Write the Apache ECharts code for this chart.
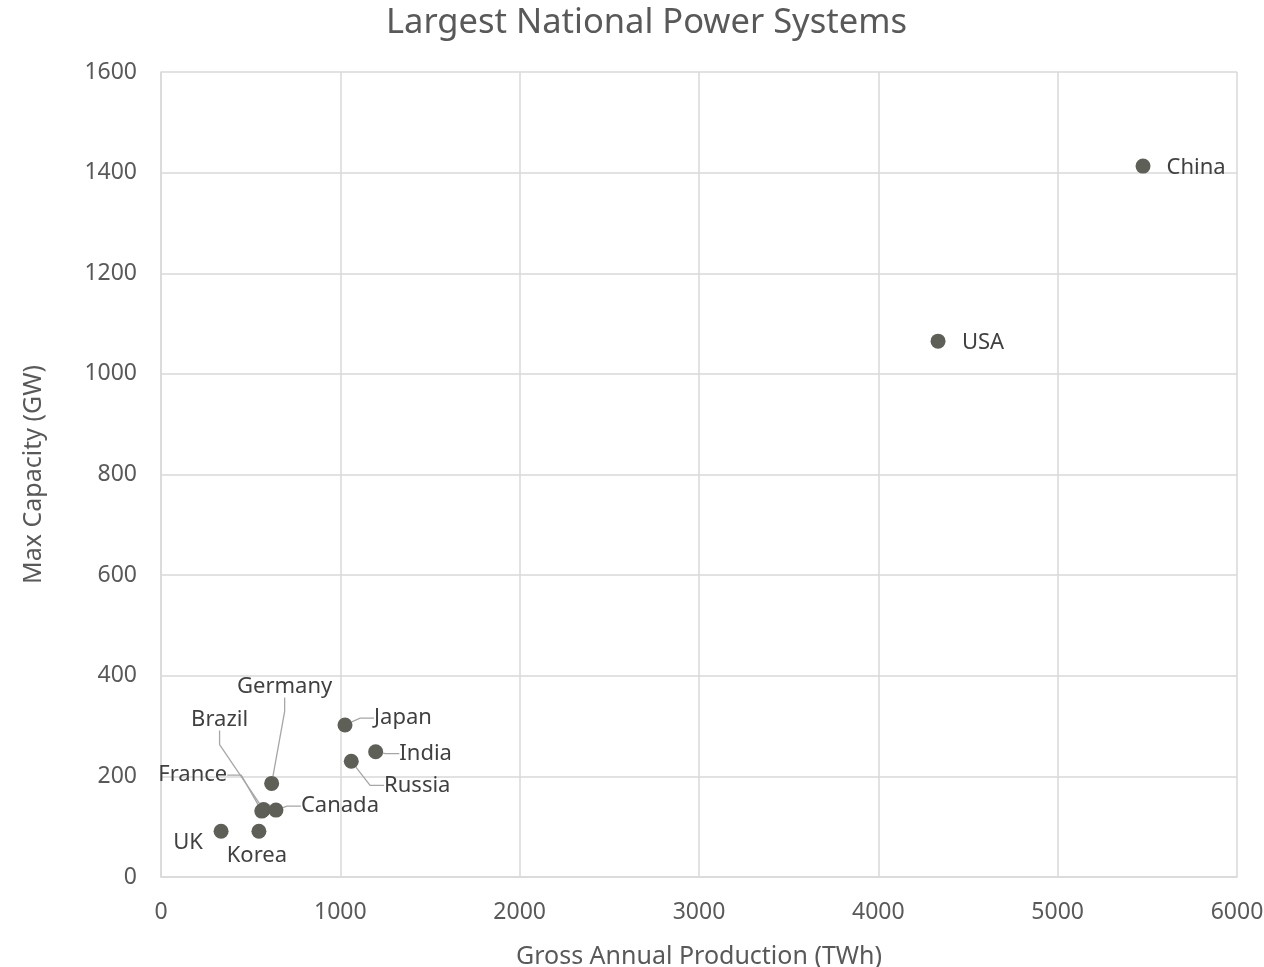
<!DOCTYPE html>
<html>
<head>
<meta charset="utf-8">
<script src="https://cdn.jsdelivr.net/npm/echarts@6/dist/echarts.min.js"></script>
<style>
html,body{margin:0;padding:0;background:#fff;}
#chart{width:1264px;height:967px;}
</style>
</head>
<body>
<div id="chart"></div>
<script>
// ---- data ----
const countries = ['China', 'USA', 'Japan', 'India', 'Russia', 'Germany', 'Brazil', 'France', 'Canada', 'Korea', 'UK'];
const production = [5476, 4333, 1026, 1197, 1061, 617, 572, 562, 641, 546, 335]; // TWh
const capacity = [1413, 1065, 302, 249, 230, 186, 134, 131, 133, 91, 91];      // GW
const xTicks = [0, 1000, 2000, 3000, 4000, 5000, 6000];
const yTicks = [0, 200, 400, 600, 800, 1000, 1200, 1400, 1600];

// label placement (offset of label centre from the marker centre, px) – styling only
const labelOffsets = {
  China: [53, 2], USA: [45, 2], Japan: [58, -7], India: [50, 2], Russia: [66, 24],
  Germany: [13, -97], Brazil: [-44, -90], France: [-69, -36], Canada: [64, -4],
  Korea: [-2, 25], UK: [-33, 12]
};
const withLeader = ['Japan', 'India', 'Russia', 'Germany', 'Brazil', 'France', 'Canada'];

const FONT = 'Noto Sans';
const chart = echarts.init(document.getElementById('chart'));
const seriesData = countries.map((c, i) => ({
  name: c,
  value: [production[i], capacity[i]],
  labelLine: { show: withLeader.indexOf(c) >= 0 }
}));

chart.setOption({
  animation: false,
  backgroundColor: '#ffffff',
  title: {
    text: 'Largest National Power Systems',
    left: 381,
    top: 1,
    textStyle: { fontFamily: FONT, fontSize: 34.5, fontWeight: 'normal', color: '#595959' }
  },
  grid: { left: 161, right: 27, top: 72, bottom: 90, containLabel: false, outerBoundsMode: 'none' },
  xAxis: {
    type: 'value',
    min: xTicks[0], max: xTicks[xTicks.length - 1], interval: 1000,
    name: 'Gross Annual Production (TWh)',
    nameLocation: 'middle', nameGap: 67,
    nameTextStyle: { fontFamily: FONT, fontSize: 25, color: '#595959' },
    axisLine: { show: true, lineStyle: { color: '#d9d9d9', width: 1.5 } },
    axisTick: { show: false },
    axisLabel: { fontFamily: FONT, fontSize: 23, color: '#595959', margin: 24, formatter: v => String(v) },
    splitLine: { show: true, lineStyle: { color: '#d9d9d9', width: 1.5 } }
  },
  yAxis: {
    type: 'value',
    min: yTicks[0], max: yTicks[yTicks.length - 1], interval: 200,
    name: 'Max Capacity (GW)',
    nameLocation: 'middle', nameGap: 115,
    nameTextStyle: { fontFamily: FONT, fontSize: 25, color: '#595959' },
    axisLine: { show: true, lineStyle: { color: '#d9d9d9', width: 1.5 } },
    axisTick: { show: false },
    axisLabel: { fontFamily: FONT, fontSize: 23, color: '#595959', margin: 24, formatter: v => String(v) },
    splitLine: { show: true, lineStyle: { color: '#d9d9d9', width: 1.5 } }
  },
  series: [{
    type: 'scatter',
    symbol: 'circle',
    symbolSize: 15,
    itemStyle: { color: '#5e5f57', opacity: 1 },
    data: seriesData,
    label: {
      show: true,
      position: 'right',
      formatter: '{b}',
      fontFamily: FONT,
      fontSize: 22,
      color: '#404040'
    },
    labelLine: {
      show: true,
      length2: 14,
      lineStyle: { color: '#a6a6a6', width: 1.3 }
    },
    labelLayout: function (params) {
      const name = countries[params.dataIndex];
      const off = labelOffsets[name] || [0, 0];
      const cx = params.rect.x + params.rect.width / 2;
      const cy = params.rect.y + params.rect.height / 2;
      return { x: cx + off[0], y: cy + off[1], align: 'center', verticalAlign: 'middle' };
    },
    emphasis: { disabled: true }
  }]
});
</script>
</body>
</html>
